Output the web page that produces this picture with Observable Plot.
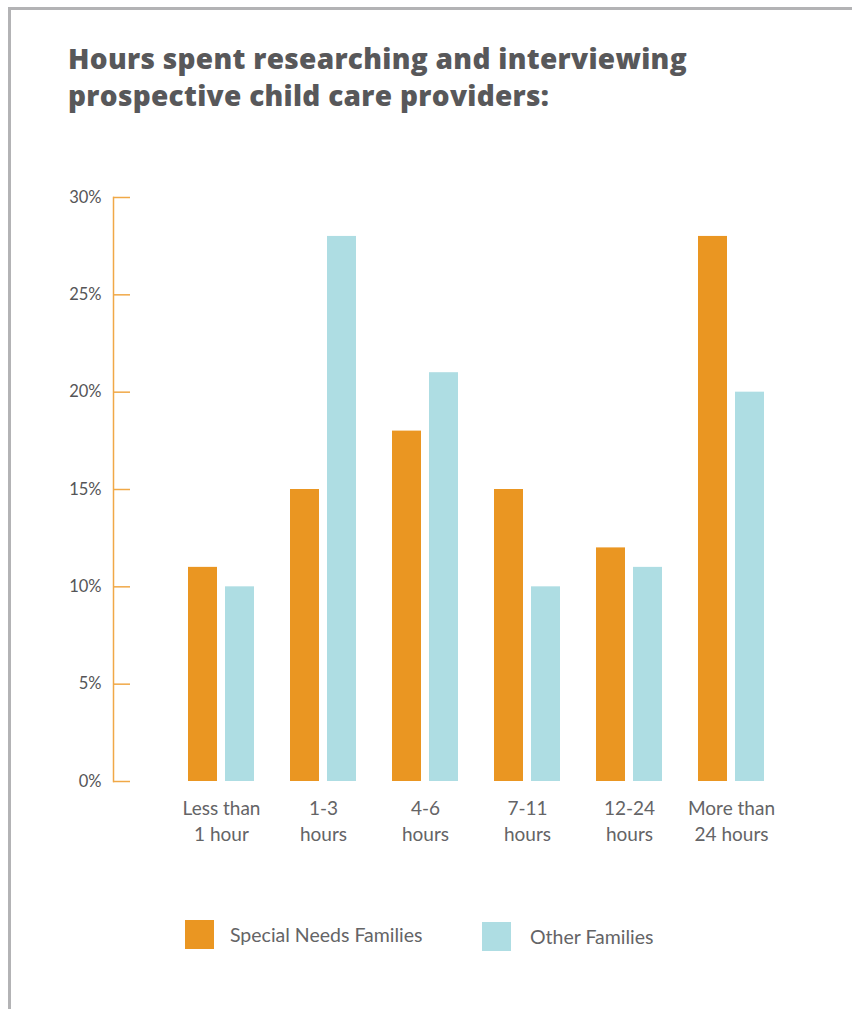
<!DOCTYPE html>
<html>
<head>
<meta charset="utf-8">
<script src="https://cdn.jsdelivr.net/npm/d3@7"></script>
<script src="https://cdn.jsdelivr.net/npm/@observablehq/plot@0.6"></script>
<style>
  html, body { margin: 0; padding: 0; background: #fff; }
  #page { position: relative; width: 852px; height: 1009px; overflow: hidden; font-family: Lato, "Open Sans", sans-serif; }
  #frame { position: absolute; left: 8px; top: 7px; right: -10px; bottom: -10px; border-left: 3px solid #b3b3b5; border-top: 3px solid #b3b3b5; }
  #title { position: absolute; left: 68px; top: 40px; margin: 0; font-family: "Open Sans", sans-serif; font-size: 28px; font-weight: 800; line-height: 37px; color: #58585a; letter-spacing: 0.3px; }
  #chart { position: absolute; left: 0; top: 0; }
  .legend-item { position: absolute; display: flex; align-items: center; font-size: 19.5px; color: #646466; }
  .swatch { width: 29px; height: 29px; }
</style>
</head>
<body>
<div id="page">
  <div id="frame"></div>
  <div id="chart"></div>
  <h1 id="title">Hours spent researching and interviewing<br>prospective child care providers:</h1>
  <div class="legend-item" id="leg0" style="left:185px; top:920px;"><div class="swatch" style="margin-right:16px"></div><span></span></div>
  <div class="legend-item" id="leg1" style="left:482px; top:922px;"><div class="swatch" style="margin-right:19px"></div><span></span></div>
</div>
<script>
const categories = ["Less than\n1 hour", "1-3\nhours", "4-6\nhours", "7-11\nhours", "12-24\nhours", "More than\n24 hours"];
const seriesNames = ["Special Needs Families", "Other Families"];
const specialNeeds = [11, 15, 18, 15, 12, 28];
const otherFamilies = [10, 28, 21, 10, 11, 20];
const yTicks = [0, 5, 10, 15, 20, 25, 30];
const colors = ["#ea9622", "#aedde3"];

const rows = categories.flatMap((c, i) => [
  {category: c, series: seriesNames[0], value: specialNeeds[i]},
  {category: c, series: seriesNames[1], value: otherFamilies[i]}
]);

const chart = Plot.plot({
  width: 852,
  height: 860,
  marginTop: 197,
  marginBottom: 79,
  marginLeft: 113,
  marginRight: 70,
  style: {fontFamily: "Lato, 'Open Sans', sans-serif", background: "transparent"},
  x: {domain: categories, padding: 0, insetLeft: 56, label: null},
  y: {domain: [0, 30], label: null},
  color: {domain: seriesNames, range: colors},
  marks: [
    Plot.barY(rows.filter(d => d.series === seriesNames[0]), {x: "category", y: "value", fill: "series", insetLeft: 18, insetRight: 55}),
    Plot.barY(rows.filter(d => d.series === seriesNames[1]), {x: "category", y: "value", fill: "series", insetLeft: 55, insetRight: 18}),
    Plot.frame({anchor: "left", stroke: "#f0a847", strokeWidth: 1.5}),
    Plot.axisY({ticks: yTicks, tickSize: 17, dx: 17, stroke: "#f0a847", strokeWidth: 1.5, tickFormat: () => "", label: null}),
    Plot.axisY({ticks: yTicks, tickSize: 0, tickPadding: 12, tickFormat: d => d + "%", fontSize: 16.5, fill: "#555557", label: null}),
    Plot.axisX({tickSize: 0, tickPadding: 15, fontSize: 19, lineHeight: 1.37, fill: "#646466", label: null})
  ]
});
document.getElementById("chart").appendChild(chart);

seriesNames.forEach((s, i) => {
  const el = document.getElementById("leg" + i);
  el.querySelector(".swatch").style.background = colors[i];
  el.querySelector("span").textContent = s;
});
</script>
</body>
</html>
